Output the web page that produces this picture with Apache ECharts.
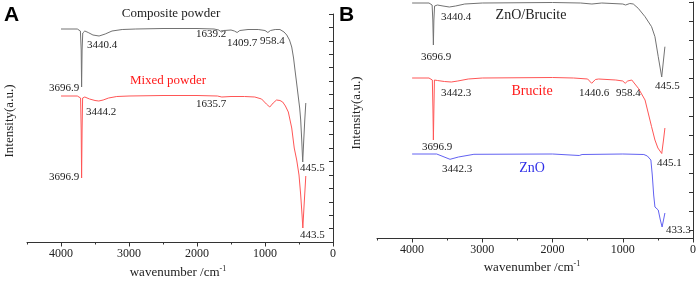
<!DOCTYPE html>
<html>
<head>
<meta charset="utf-8">
<script src="https://cdn.jsdelivr.net/npm/echarts@6/dist/echarts.min.js"></script>
<style>
  html, body { margin: 0; padding: 0; background: #fff; }
  #chart { width: 699px; height: 281px; }
</style>
</head>
<body>
<div id="chart"></div>
<script>
// ---- data (wavenumber in cm-1, intensity in arbitrary units) ----
// panel A: composite powder
var wnCompA = [4000,3760,3715,3703,3697,3690,3680,3650,3600,3530,3440,3350,3250,3100,2900,2500,2000,1750,1680,1639,1600,1500,1450,1410,1370,1250,1100,1000,958,920,850,780,720,680,640,607,580,559,535,510,490,475,460,445.5,430,415,400];
var intCompA = [213,213,211,192,155,192,209,211,209.5,207,206,208,211,212.5,213,213.5,213.5,213,212,210,211.5,212,211,209.5,211.5,212.5,212.5,211.5,209.5,211.5,212.5,212.5,210,207,202,195,184,172,159,145,134,122,102,80,102,122,139];
// panel A: mixed powder
var wnMixA = [4000,3760,3712,3703,3697,3690,3682,3650,3580,3500,3444,3380,3300,3180,3000,2500,2000,1700,1635,1500,1300,1150,1050,980,930,880,830,780,740,700,657,607,570,534,500,475,455,443.5,425,400];
var intMixA = [146,146,144,112,64,112,144,145,143,141.5,141,142,144,145.5,146,146.5,146.5,146,145,145.5,145.5,145,143,138,135,139,142,141.5,140,136,130,114,94,82,67,47,27,14,37,66];
// panel B: ZnO/Brucite
var wnZBB = [4000,3760,3715,3705,3697,3690,3680,3640,3560,3470,3380,3250,3000,2000,1600,1440,1300,1000,960,900,850,780,683,590,542,495,445.5,420,400];
var intZBB = [235,235,233,218,193,218,232,233,232,231,232,234,235,235.5,235,234,235,234,233,234.5,234,229.7,221.3,211.3,201.3,181.3,161,178,191.3];
// panel B: Brucite
var wnBruB = [4000,3760,3712,3703,3697,3690,3682,3640,3540,3442,3350,3200,3000,2000,1700,1500,1443,1390,1344,1100,1000,966,930,872,778,683,590,542,500,445.1,420,400];
var intBruB = [160,160,158,128,98,128,158,157.5,156.5,156,157,159,160,160.5,160,159,154.7,158.5,159,158,157,154.7,157,158,149.7,138,111.3,98,90,84.5,98,110];
// panel B: ZnO
var wnZnoB = [4000,3650,3560,3460,3340,3120,2000,1620,1580,1000,700,650,600,580,560,542,495,465,440,420,400];
var intZnoB = [84,84,81.5,78.7,81,83.7,84,82.5,83.5,84,83.5,82,78,63,43,31,28,18,11,18,25];

var xMajorTicks = [0,1000,2000,3000,4000];
var yTicksB = [8,27,46,65,84,103,122,141,160,179,198,217,236];

function pairs(xs, ys) {
  return xs.map(function (x, i) { return [x, ys[i]]; });
}

var SERIF = '"Liberation Serif", "DejaVu Serif", serif';
var AXIS = '#333';

function mainX(grid) {
  return {
    type: 'value', gridIndex: grid, position: 'bottom', min: 0, max: 4500, interval: 500, inverse: true,
    axisLine: { onZero: false, lineStyle: { color: AXIS, width: 1 } },
    axisTick: { length: 2.5, lineStyle: { color: AXIS } },
    axisLabel: { customValues: xMajorTicks, color: '#222', fontFamily: SERIF, fontSize: 12, margin: 6,
      formatter: function (v) { return String(v); } },
    splitLine: { show: false }
  };
}
function majorX(grid) {
  return {
    type: 'value', gridIndex: grid, position: 'bottom', min: 0, max: 4500, inverse: true,
    axisLine: { show: false, onZero: false },
    axisTick: { customValues: xMajorTicks, length: 4.5, lineStyle: { color: AXIS } },
    axisLabel: { show: false },
    splitLine: { show: false }
  };
}

function txt(x, y, s, size, color, align) {
  return {
    type: 'text', x: x, y: y, silent: true,
    style: { text: s, font: size + 'px ' + SERIF, fill: color || '#222', align: align || 'left', verticalAlign: 'middle' }
  };
}

var graphics = [
  { type: 'text', x: 4, y: 15, style: { text: 'A', font: 'bold 21px "Liberation Sans", Arial, sans-serif', fill: '#000', verticalAlign: 'middle' } },
  { type: 'text', x: 339, y: 15, style: { text: 'B', font: 'bold 21px "Liberation Sans", Arial, sans-serif', fill: '#000', verticalAlign: 'middle' } },
  txt(171, 14, 'Composite powder', 13, '#222', 'center'),
  txt(168, 81, 'Mixed powder', 13, '#ff1a1a', 'center'),
  txt(87, 45, '3440.4', 11),
  txt(49, 88, '3696.9', 11),
  txt(86, 112, '3444.2', 11),
  txt(49, 177, '3696.9', 11),
  txt(196, 34, '1639.2', 11),
  txt(227, 43, '1409.7', 11),
  txt(260, 41, '958.4', 11),
  txt(196, 104, '1635.7', 11),
  txt(300, 168, '445.5', 11),
  txt(300, 235, '443.5', 11),
  txt(531, 15, 'ZnO/Brucite', 14, '#222', 'center'),
  txt(532, 91, 'Brucite', 14, '#ff1a1a', 'center'),
  txt(532, 168, 'ZnO', 14, '#3030e8', 'center'),
  txt(441, 17, '3440.4', 11),
  txt(421, 57, '3696.9', 11),
  txt(441, 93, '3442.3', 11),
  txt(579, 93, '1440.6', 11),
  txt(616, 93, '958.4', 11),
  txt(655, 86, '445.5', 11),
  txt(422, 147, '3696.9', 11),
  txt(442, 169, '3442.3', 11),
  txt(657, 163, '445.1', 11),
  txt(666, 230, '433.3', 11),
  // axis titles
  { type: 'text', x: 10, y: 121, rotation: Math.PI / 2, style: { text: 'Intensity(a.u.)', font: '13px ' + SERIF, fill: '#222', align: 'center', verticalAlign: 'middle' } },
  { type: 'text', x: 357, y: 113, rotation: Math.PI / 2, style: { text: 'Intensity(a.u.)', font: '13px ' + SERIF, fill: '#222', align: 'center', verticalAlign: 'middle' } },
  { type: 'text', x: 178, y: 273, style: { text: '{m|wavenumber /cm}{s|-1}', align: 'center', verticalAlign: 'middle',
      rich: { m: { fontFamily: SERIF, fontSize: 13, fill: '#222', lineHeight: 16 }, s: { fontFamily: SERIF, fontSize: 8, fill: '#222', verticalAlign: 'top', lineHeight: 16 } } } },
  { type: 'text', x: 532, y: 268, style: { text: '{m|wavenumber /cm}{s|-1}', align: 'center', verticalAlign: 'middle',
      rich: { m: { fontFamily: SERIF, fontSize: 13, fill: '#222', lineHeight: 16 }, s: { fontFamily: SERIF, fontSize: 8, fill: '#222', verticalAlign: 'top', lineHeight: 16 } } } }
];

var chart = echarts.init(document.getElementById('chart'));
chart.setOption({
  animation: false,
  backgroundColor: '#fff',
  grid: [
    { left: 27, top: 14, width: 306, height: 228 },
    { left: 377, top: 2, width: 318, height: 236 }
  ],
  xAxis: [mainX(0), majorX(0), mainX(1), majorX(1)],
  yAxis: [
    {
      type: 'value', gridIndex: 0, min: 0, max: 228, interval: 228 / 17,
      axisLine: { show: true, lineStyle: { color: AXIS } },
      axisTick: { show: true, length: 4, lineStyle: { color: AXIS } },
      axisLabel: { show: false }, splitLine: { show: false }
    },
    {
      type: 'value', gridIndex: 1, min: 0, max: 236,
      axisLine: { show: true, lineStyle: { color: AXIS } },
      axisTick: { show: true, length: 4, customValues: yTicksB, lineStyle: { color: AXIS } },
      axisLabel: { show: false }, splitLine: { show: false }
    }
  ],
  series: [
    { type: 'line', xAxisIndex: 0, yAxisIndex: 0, data: pairs(wnCompA, intCompA), showSymbol: false, lineStyle: { color: '#727272', width: 1 } },
    { type: 'line', xAxisIndex: 0, yAxisIndex: 0, data: pairs(wnMixA, intMixA), showSymbol: false, lineStyle: { color: '#ff5656', width: 1 } },
    { type: 'line', xAxisIndex: 2, yAxisIndex: 1, data: pairs(wnZBB, intZBB), showSymbol: false, lineStyle: { color: '#727272', width: 1 } },
    { type: 'line', xAxisIndex: 2, yAxisIndex: 1, data: pairs(wnBruB, intBruB), showSymbol: false, lineStyle: { color: '#ff5656', width: 1 } },
    { type: 'line', xAxisIndex: 2, yAxisIndex: 1, data: pairs(wnZnoB, intZnoB), showSymbol: false, lineStyle: { color: '#6262f2', width: 1 } }
  ],
  graphic: graphics
});
</script>
</body>
</html>
